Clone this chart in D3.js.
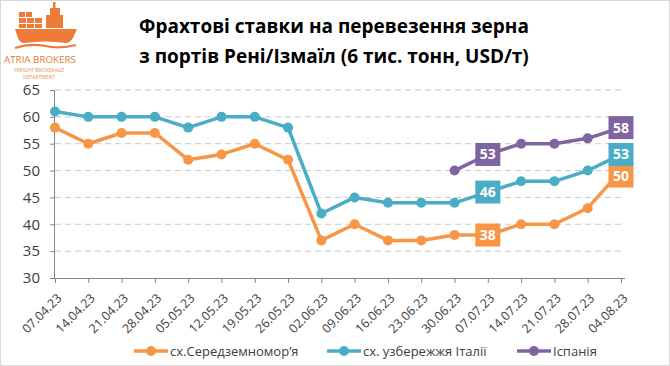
<!DOCTYPE html>
<html><head><meta charset="utf-8">
<script src="https://cdn.jsdelivr.net/npm/d3@7"></script>
<style>body{margin:0;background:#fff}svg{display:block}</style>
</head><body>
<script>
const categories = ["07.04.23","14.04.23","21.04.23","28.04.23","05.05.23","12.05.23","19.05.23","26.05.23","02.06.23","09.06.23","16.06.23","23.06.23","30.06.23","07.07.23","14.07.23","21.07.23","28.07.23","04.08.23"];
const eastMed = [58,55,57,57,52,53,55,52,37,40,37,37,38,38,40,40,43,50];
const italy = [61,60,60,60,58,60,60,58,42,45,44,44,44,46,48,48,50,53];
const spain = [null,null,null,null,null,null,null,null,null,null,null,null,50,53,55,55,56,58];
const yTicks = [30,35,40,45,50,55,60,65];
const seriesNames = ["сх.Середземномор’я","сх. узбережжя Італії","Іспанія"];
const colors = ["#F79646","#4BACC6","#8064A2"];
const labelIdx = [13,17];

const W=670,H=366;
const svg=d3.select("body").append("svg").attr("width",W).attr("height",H);
svg.append("rect").attr("x",0.5).attr("y",0.5).attr("width",W-1).attr("height",H-1).attr("fill","#fff").attr("stroke","#d9d9d9");

const x=d3.scalePoint().domain(categories).range([55,621]);
const y=d3.scaleLinear().domain([30,65]).range([278,90]);
const font="'Open Sans', 'Noto Sans', sans-serif";

// title
const t=svg.append("text").attr("text-anchor","middle").attr("font-family",font).attr("font-weight","bold").attr("font-size",19).attr("fill","#000");
t.append("tspan").attr("x",334).attr("y",33).text("Фрахтові ставки  на перевезення зерна");
t.append("tspan").attr("x",334).attr("y",63).text("з портів Рені/Ізмаїл (6 тис. тонн, USD/т)");

// logo
const lc="#EE7B3A";
const lg=svg.append("g").attr("fill",lc);
lg.append("path").attr("d","M15,29 L77,29 L73,38 Q70,43 66,43 Q45,40 24,43 Q20,43 18,38 Z");
[[19,24,8,5],[27,24,8,5],[35,24,8,5],[19,18,8,6],[27,18,8,6],[35,18,8,6],[19,12,7,6],[26,12,7,6]].forEach(r=>lg.append("rect").attr("x",r[0]).attr("y",r[1]).attr("width",r[2]-1).attr("height",r[3]-1));
lg.append("path").attr("d","M46,28 L46,15 L50,15 L50,8 L60,8 L60,15 L63,15 L63,28 Z");
lg.append("rect").attr("x",53).attr("y",2).attr("width",2.5).attr("height",7);
lg.append("path").attr("d","M15,48 Q30,43 45,46 Q60,49 76,45").attr("fill","none").attr("stroke",lc).attr("stroke-width",2.2);
svg.append("text").attr("x",40).attr("y",63).attr("text-anchor","middle").attr("font-family",font).attr("font-size",9.8).attr("fill","#E07B3A").text("ATRIA BROKERS");
svg.append("text").attr("x",39).attr("y",71.5).attr("text-anchor","middle").attr("font-family",font).attr("font-size",5).attr("fill","#E9925A").text("FREIGHT BROKERAGE");
svg.append("text").attr("x",39).attr("y",78.5).attr("text-anchor","middle").attr("font-family",font).attr("font-size",5).attr("fill","#E9925A").text("DEPARTMENT");

// grid
svg.append("g").selectAll("line").data(yTicks.filter(d=>d>30)).join("line")
 .attr("x1",55).attr("x2",621).attr("y1",d=>y(d)).attr("y2",d=>y(d))
 .attr("stroke","#c8c8c8").attr("stroke-width",1).attr("stroke-dasharray","6,4");

// axes
const ya=svg.append("g").attr("transform","translate(54,0)").call(d3.axisLeft(y).tickValues(yTicks).tickSize(4).tickPadding(10));
ya.select(".domain").attr("stroke","#868686");
ya.selectAll(".tick line").attr("stroke","#868686");
ya.selectAll("text").attr("font-family",font).attr("font-size",15).attr("fill","#404040");

const xa=svg.append("g").attr("transform","translate(0,278)").call(d3.axisBottom(x).tickSize(5).tickSizeOuter(0));
xa.select(".domain").attr("stroke","#868686").attr("d","M54,0.5H625");
xa.selectAll(".tick line").attr("stroke","#868686");
xa.selectAll("text").attr("font-family",font).attr("font-size",12.5).attr("fill","#404040")
 .attr("text-anchor","end").attr("y",0).attr("dy",null).attr("transform","translate(7,21) rotate(-45)");

// series
const all=[eastMed,italy,spain];
all.forEach((s,i)=>{
  const pts=categories.map((c,j)=>({c,v:s[j],j})).filter(d=>d.v!=null);
  svg.append("path").datum(pts).attr("fill","none").attr("stroke",colors[i]).attr("stroke-width",3.5).attr("stroke-linejoin","round")
    .attr("d",d3.line().x(d=>x(d.c)).y(d=>y(d.v)));
  svg.append("g").selectAll("circle").data(pts).join("circle").attr("cx",d=>x(d.c)).attr("cy",d=>y(d.v)).attr("r",5).attr("fill",colors[i]);
});

// labels
all.forEach((s,i)=>{
  labelIdx.forEach(j=>{
    const cx=x(categories[j]), cy=y(s[j]) + (i===0&&j===17?5.5:0);
    const g=svg.append("g");
    g.append("rect").attr("x",cx-12.5).attr("y",cy-11.5).attr("width",25).attr("height",23).attr("fill",colors[i]);
    g.append("text").attr("x",cx).attr("y",cy).attr("dy","0.36em").attr("text-anchor","middle").attr("font-family",font).attr("font-weight","bold").attr("font-size",14).attr("fill","#fff").text(s[j]);
  });
});

// legend
const legX=[134,327,517];
seriesNames.forEach((n,i)=>{
  const g=svg.append("g").attr("transform",`translate(${legX[i]},351)`);
  g.append("line").attr("x1",0).attr("x2",34).attr("stroke",colors[i]).attr("stroke-width",3.5);
  g.append("circle").attr("cx",17).attr("r",5).attr("fill",colors[i]);
  g.append("text").attr("x",36).attr("dy","0.35em").attr("font-family",font).attr("font-size",13).attr("fill","#404040").text(n);
});
</script>
</body></html>
